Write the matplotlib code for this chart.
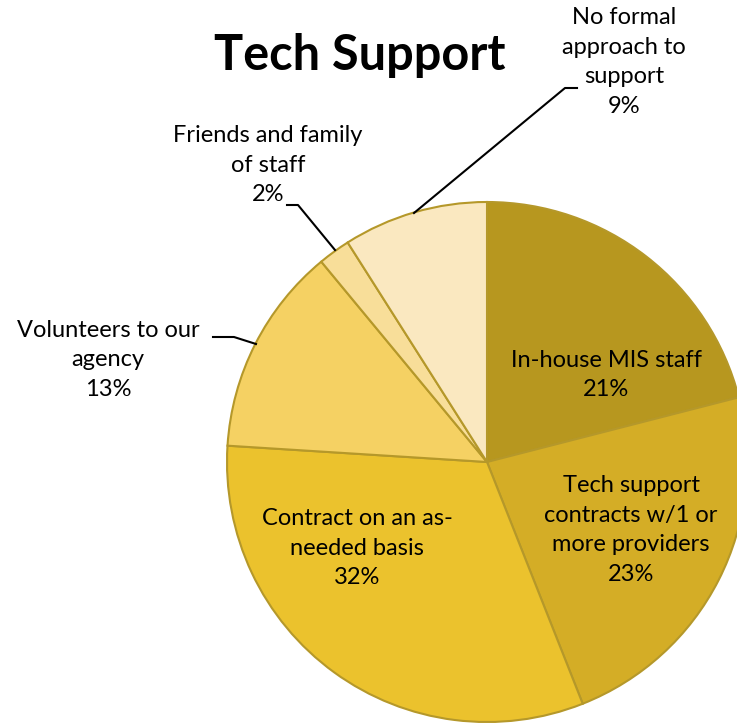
import matplotlib.pyplot as plt

labels = ["In-house MIS staff", "Tech support\ncontracts w/1 or\nmore providers",
          "Contract on an as-\nneeded basis", "Volunteers to our\nagency",
          "Friends and family\nof staff", "No formal\napproach to\nsupport"]
valores = [21, 23, 32, 13, 2, 9]
cores = ["#B7971F", "#D4AD26", "#EBC22D", "#F5D163", "#F8DE99", "#FAE8C0"]

plt.rcParams['font.family'] = ['Lato', 'DejaVu Sans']

fig = plt.figure(figsize=(7.37, 7.23), dpi=100)
# eixo quadrado centrado no pie (centro ~ (487, 462) px, raio ~260 px)
ax = fig.add_axes([(487 - 260) / 737, (723 - 462 - 260) / 723, 520 / 737, 520 / 723])
wedges, _ = ax.pie(valores, colors=cores, startangle=90, counterclock=False,
                   radius=1, wedgeprops=dict(edgecolor="#B5982A", linewidth=1.5))
ax.set_xlim(-1, 1)
ax.set_ylim(-1, 1)
ax.set_aspect('equal')
ax.axis('off')

textos = [f"{l}\n{v}%" for l, v in zip(labels, valores)]
fs = 17
ls = 1.5

# rotulos dentro das fatias
ax.text(0.458, 0.335, textos[0], ha='center', va='center', fontsize=fs, linespacing=ls)
ax.text(0.554, -0.262, textos[1], ha='center', va='center', fontsize=fs, linespacing=ls)
ax.text(-0.5, -0.331, textos[2], ha='center', va='center', fontsize=fs, linespacing=ls)

# rotulos de fora com linhas
def p(px, py):
    return ((px - 487) / 260, (462 - py) / 260)

ax.text(*p(108, 360), textos[3], ha='center', va='center', fontsize=fs, linespacing=ls, clip_on=False)
ax.text(*p(268, 165), textos[4], ha='center', va='center', fontsize=fs, linespacing=ls, clip_on=False)
ax.text(*p(624, 62), textos[5], ha='center', va='center', fontsize=fs, linespacing=ls, clip_on=False)

for pts in [[(213, 337), (234, 337), (256, 344)],
            [(287, 205), (298, 205), (335, 250)],
            [(577, 88), (565, 88), (414, 213)]]:
    xs, ys = zip(*[p(a, b) for a, b in pts])
    ax.plot(xs, ys, color='black', linewidth=1.5, clip_on=False)

fig.text(360 / 737, 1 - 55 / 723, "Tech Support", ha='center', va='center',
         fontsize=35, fontweight='bold')

plt.savefig("out.png", dpi=100)
